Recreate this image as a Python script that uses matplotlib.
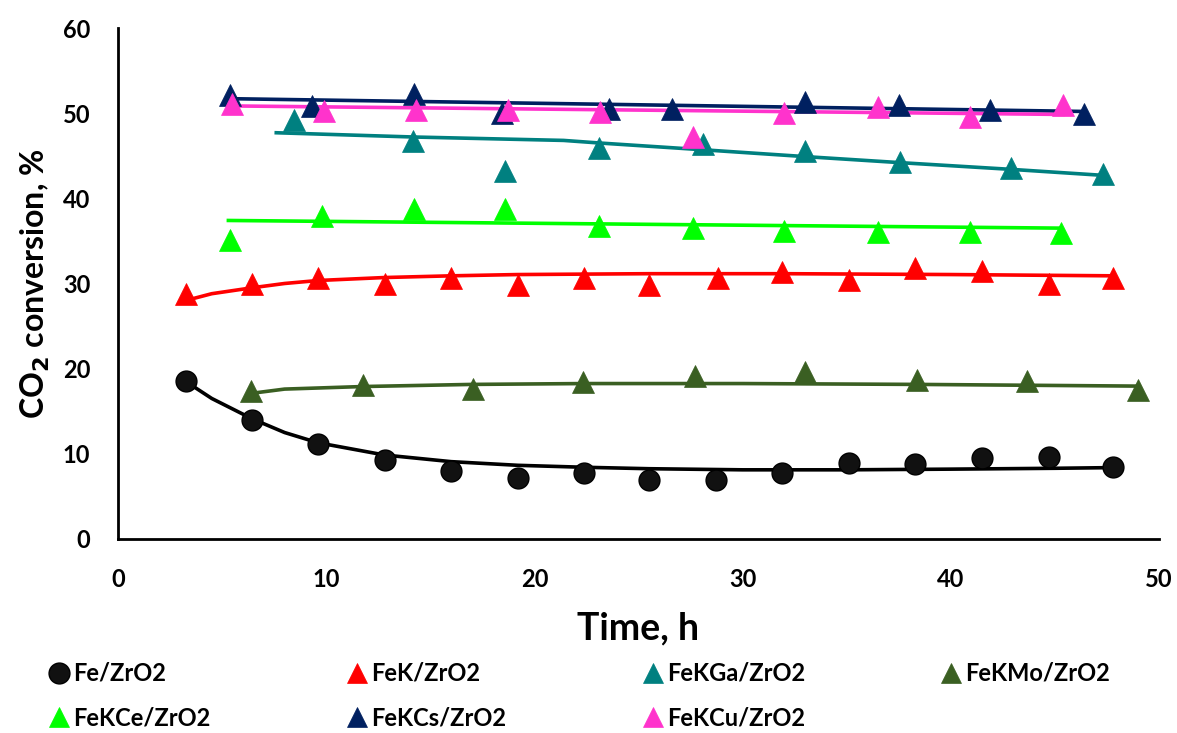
import numpy as np
import matplotlib
matplotlib.use("Agg")
import matplotlib.pyplot as plt

plt.rcParams['font.family'] = ['Lato', 'DejaVu Sans']
plt.rcParams['font.weight'] = 'bold'

# measured points (time, h / CO2 conversion, %)
fe_t = [3.25, 6.45, 9.6, 12.8, 16.0, 19.2, 22.4, 25.5, 28.7, 31.9, 35.1, 38.3, 41.5, 44.7, 47.8]
fe_y = [18.5, 14.0, 11.2, 9.3, 8.0, 7.2, 7.8, 6.9, 6.95, 7.75, 8.9, 8.8, 9.5, 9.65, 8.5]

fek_t = [3.25, 6.45, 9.6, 12.8, 16.0, 19.2, 22.4, 25.5, 28.8, 31.9, 35.1, 38.3, 41.5, 44.7, 47.8]
fek_y = [28.8, 29.9, 30.6, 29.9, 30.6, 29.8, 30.6, 29.8, 30.65, 31.35, 30.4, 31.8, 31.5, 29.9, 30.6]

fekga_t = [8.45, 14.15, 18.6, 23.1, 28.1, 33.0, 37.55, 42.9, 47.3]
fekga_y = [49.2, 46.7, 43.2, 45.95, 46.4, 45.6, 44.3, 43.6, 42.9]

fekmo_t = [6.4, 11.75, 17.05, 22.35, 27.7, 33.0, 38.4, 43.65, 49.0]
fekmo_y = [17.4, 18.1, 17.65, 18.4, 19.1, 19.6, 18.7, 18.5, 17.5]

fekce_t = [5.4, 9.8, 14.2, 18.6, 23.1, 27.6, 32.0, 36.5, 40.9, 45.3]
fekce_y = [35.1, 37.9, 38.8, 38.8, 36.7, 36.5, 36.2, 36.0, 36.0, 35.9]

fekcs_t = [5.4, 9.3, 14.2, 18.45, 23.6, 26.6, 33.0, 37.5, 41.9, 46.4]
fekcs_y = [52.1, 50.8, 52.3, 50.0, 50.5, 50.5, 51.3, 51.0, 50.4, 49.9]

fekcu_t = [5.45, 9.9, 14.3, 18.75, 23.15, 27.6, 32.0, 36.5, 40.9, 45.4]
fekcu_y = [51.1, 50.3, 50.4, 50.4, 50.1, 47.2, 50.0, 50.7, 49.5, 50.9]

# trend lines
fe_fit_t = [3.25, 4.5, 6.45, 8.0, 9.6, 12.8, 16.0, 19.2, 22.4, 25.5, 30.0, 35.0, 40.0, 45.0, 47.8]
fe_fit_y = [18.5, 16.5, 14.1, 12.5, 11.3, 9.86, 9.08, 8.65, 8.42, 8.25, 8.12, 8.12, 8.2, 8.3, 8.38]

fek_fit_t = [3.25, 4.5, 6.45, 8.0, 9.6, 12.8, 16.0, 19.2, 25.5, 32.0, 40.0, 47.8]
fek_fit_y = [28.0, 28.8, 29.5, 30.0, 30.35, 30.7, 30.9, 31.05, 31.15, 31.15, 31.05, 30.9]

fekga_fit_t = [7.6, 14.2, 21.4, 23.1, 28.1, 33.0, 37.5, 42.9, 47.3]
fekga_fit_y = [47.7, 47.2, 46.8, 46.5, 45.7, 44.9, 44.2, 43.4, 42.7]

fekmo_fit_t = [6.4, 8.0, 11.75, 17.0, 22.4, 30.0, 38.4, 49.0]
fekmo_fit_y = [17.1, 17.6, 17.9, 18.15, 18.25, 18.25, 18.15, 17.95]

fekce_fit_t = [5.3, 45.3]
fekce_fit_y = [37.4, 36.5]

fekcs_fit_t = [5.4, 46.4]
fekcs_fit_y = [51.7, 50.2]

fekcu_fit_t = [5.45, 45.4]
fekcu_fit_y = [50.85, 49.85]

series = [
    ("Fe/ZrO2", fe_t, fe_y, fe_fit_t, fe_fit_y, "#000000", "o"),
    ("FeK/ZrO2", fek_t, fek_y, fek_fit_t, fek_fit_y, "#FF0000", "^"),
    ("FeKGa/ZrO2", fekga_t, fekga_y, fekga_fit_t, fekga_fit_y, "#008080", "^"),
    ("FeKMo/ZrO2", fekmo_t, fekmo_y, fekmo_fit_t, fekmo_fit_y, "#3A5F22", "^"),
    ("FeKCe/ZrO2", fekce_t, fekce_y, fekce_fit_t, fekce_fit_y, "#00FF00", "^"),
    ("FeKCs/ZrO2", fekcs_t, fekcs_y, fekcs_fit_t, fekcs_fit_y, "#002060", "^"),
    ("FeKCu/ZrO2", fekcu_t, fekcu_y, fekcu_fit_t, fekcu_fit_y, "#FF33CC", "^"),
]

fig = plt.figure(figsize=(11.77, 7.33), dpi=100)
ax = fig.add_axes([0.1003, 0.2647, 0.8844, 0.6971])

handles = []
for name, t, y, ft, fy, col, mk in series:
    ax.plot(ft, fy, color=col, lw=2.6, zorder=2)
    if mk == "o":
        h, = ax.plot(t, y, ls="none", marker="o", ms=15, mfc="#111111", mec="#000000", mew=1, zorder=3, label=name)
    else:
        h, = ax.plot(t, y, ls="none", marker="^", ms=16, mfc=col, mec=col, mew=0.5, zorder=3, label=name)
    handles.append(h)

ax.set_xlim(0, 50)
ax.set_ylim(0, 60)
ax.set_xticks(range(0, 51, 10))
ax.set_yticks(range(0, 61, 10))
ax.tick_params(length=0, labelsize=17)
ax.tick_params(axis='x', pad=21)
ax.tick_params(axis='y', pad=20)
for s in ["top", "right"]:
    ax.spines[s].set_visible(False)
for s in ["left", "bottom"]:
    ax.spines[s].set_linewidth(2)
    ax.spines[s].set_color("black")

ax.set_xlabel("Time, h", fontsize=27, fontweight="bold", labelpad=15)
ax.set_ylabel("CO$_\\mathbf{2}$ conversion, %", fontsize=23, fontweight="bold", labelpad=8)

# legend order: row-wise in the picture
order = [0, 4, 1, 5, 2, 6, 3]
leg = fig.legend([handles[i] for i in order], [series[i][0] for i in order],
                 loc="upper left", bbox_to_anchor=(0.036, 0.110), ncol=4, frameon=False,
                 fontsize=17, handlelength=0.6, handletextpad=0.3, columnspacing=5.9,
                 labelspacing=0.9, borderaxespad=0)
for h in leg.legend_handles:
    h.set_markersize(15)

fig.savefig("out.png", dpi=100)
